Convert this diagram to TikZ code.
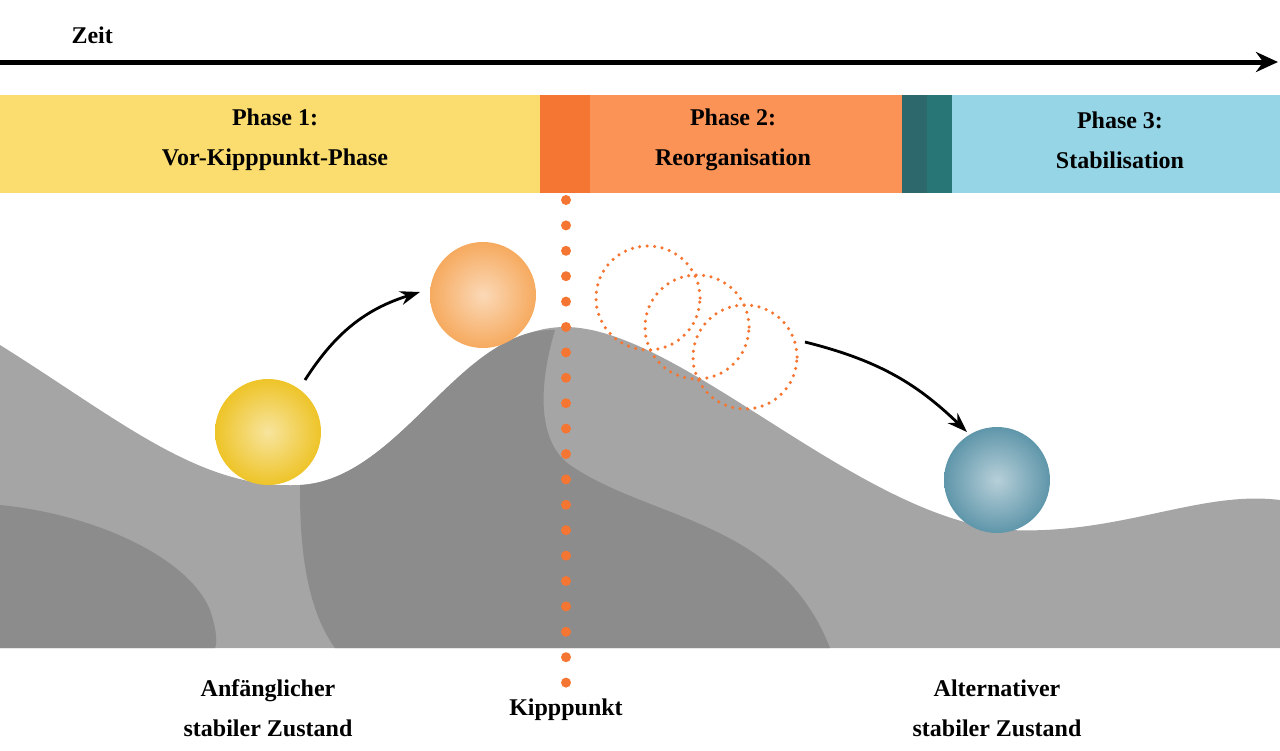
\documentclass[tikz,border=0pt]{standalone}
\usepackage{fontspec}
\setmainfont{Liberation Serif}
\usetikzlibrary{arrows.meta}
\definecolor{phaseA}{RGB}{251,220,110}
\definecolor{kipp}{RGB}{245,118,50}
\definecolor{phaseB}{RGB}{251,146,86}
\definecolor{tealA}{RGB}{45,105,108}
\definecolor{tealB}{RGB}{40,118,118}
\definecolor{phaseC}{RGB}{150,213,230}
\definecolor{hill}{RGB}{165,165,165}
\definecolor{hilldark}{RGB}{140,140,140}
\definecolor{ballY}{RGB}{238,196,40}
\definecolor{ballO}{RGB}{246,170,95}
\definecolor{ballB}{RGB}{95,150,170}
\begin{document}
\begin{tikzpicture}[x=1pt,y=-1pt,
  lbl/.style={font=\bfseries\fontsize{24}{40}\selectfont,align=center},
  ball/.style={circle,minimum size=106pt,inner sep=0pt,shade,inner color=#1!45!white,outer color=#1},
  ghost/.style={circle,minimum size=104pt,draw=kipp,line width=3.5pt,dash pattern=on 0pt off 7.5pt,line cap=round},
  move/.style={-{Stealth[length=20pt,width=14pt]},line width=2.8pt}]
  \useasboundingbox (0,0) rectangle (1280,750);

  % time axis
  \node[lbl,anchor=west] (zeit) at (68,35) {Zeit};
  \coordinate (t0) at (0,62);
  \coordinate (t1) at (1278,62);
  \draw[line width=5pt,-{Stealth[length=22pt,width=20pt]}] (t0) -- (t1);

  % phase bars
  \fill[phaseA] (0,95) rectangle (540,193);
  \fill[kipp] (540,95) rectangle (590,193);
  \fill[phaseB] (590,95) rectangle (902,193);
  \fill[tealA] (902,95) rectangle (927,193);
  \fill[tealB] (927,95) rectangle (952,193);
  \fill[phaseC] (952,95) rectangle (1280,193);
  \node[lbl] (p1) at (275,140) {Phase 1:\\Vor-Kipppunkt-Phase};
  \node[lbl] (p2) at (733,140) {Phase 2:\\Reorganisation};
  \node[lbl] (p3) at (1120,140) {Phase 3:\\Stabilisation};

  % landscape
  \fill[hill] (0,345) .. controls (120,420) and (200,490) .. (300,485)
    .. controls (400,480) and (460,327) .. (565,327)
    .. controls (680,327) and (860,520) .. (1010,530)
    .. controls (1120,535) and (1200,490) .. (1280,500)
    -- (1280,648) -- (0,648) -- cycle;
  \fill[hilldark] (0,505) .. controls (100,515) and (190,560) .. (210,610)
    .. controls (220,640) and (215,648) .. (215,648) -- (0,648) -- cycle;
  \fill[hilldark] (300,485) .. controls (400,480) and (460,327) .. (555,330)
    .. controls (540,380) and (535,440) .. (570,465)
    .. controls (650,520) and (780,520) .. (830,648)
    -- (335,648) .. controls (300,600) and (300,520) .. (300,485) -- cycle;

  % balls
  \node[ball=ballY] (start) at (268,432) {};
  \node[ball=ballO] (top) at (483,295) {};
  \node[ball=ballB] (end) at (997,480) {};
  \node[ghost] (g1) at (648,298) {};
  \node[ghost] (g2) at (697,327) {};
  \node[ghost] (g3) at (745,357) {};

  \coordinate (a1) at (305,380);
  \coordinate (a2) at (420,292);
  \draw[move] (a1) to[bend left=20] (a2);
  \coordinate (b1) at (805,342);
  \coordinate (b2) at (967,432);
  \draw[move] (b1) to[bend left=15] (b2);

  % tipping point
  \coordinate (k0) at (566,200);
  \coordinate (k1) at (566,688);
  \draw[kipp,line width=10pt,line cap=round,dash pattern=on 0pt off 25.4pt] (k0) -- (k1);

  \node[lbl] (l1) at (268,708) {Anfänglicher\\stabiler Zustand};
  \node[lbl] (l2) at (566,710) {Kipppunkt};
  \node[lbl] (l3) at (997,708) {Alternativer\\stabiler Zustand};
\end{tikzpicture}
\end{document}
